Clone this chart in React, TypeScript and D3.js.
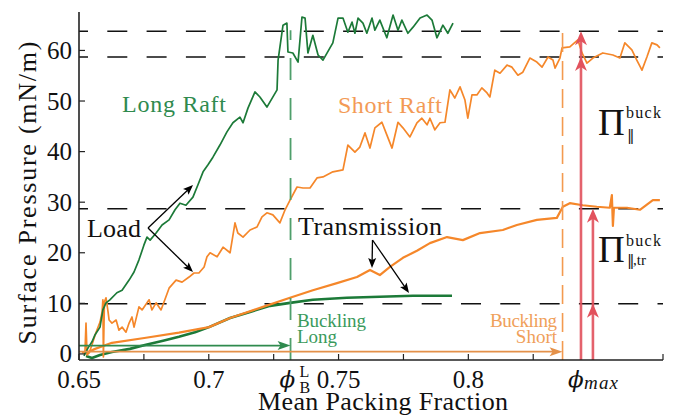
import React from 'react';
import * as d3 from 'd3';

const W = 676;
const H = 416;

// Long raft, load curve (mean packing fraction, surface pressure mN/m)
const longLoad: [number, number][] = [
  [0.6519, -0.4], [0.6535, 1.2], [0.655, 2.4], [0.6562, 3.8], [0.6581, 5.3], [0.6592, 8.7],
  [0.6604, 10.1], [0.6619, 10.7], [0.6646, 12.1], [0.6666, 12.6], [0.6693, 14.6], [0.6712, 16.2],
  [0.6731, 18.6], [0.675, 21.5], [0.6762, 23.1], [0.6774, 22.5], [0.6797, 23.9], [0.682, 25.5],
  [0.6847, 26.5], [0.687, 28.5], [0.6889, 29.8], [0.6912, 29.4], [0.6939, 31.0], [0.6958, 33.4],
  [0.6978, 36.0], [0.6997, 37.4], [0.7016, 38.9], [0.7043, 41.3], [0.707, 43.9], [0.7093, 45.7],
  [0.712, 46.8], [0.7132, 45.7], [0.7151, 48.6], [0.7178, 51.8], [0.7197, 50.8], [0.7224, 48.8],
  [0.7263, 52.2], [0.7267, 58.1], [0.7286, 65.0], [0.7301, 65.4], [0.7305, 59.7], [0.7324, 59.5],
  [0.7344, 57.7], [0.7359, 66.6], [0.7371, 66.4], [0.7382, 59.5], [0.7401, 63.0], [0.7421, 59.1],
  [0.744, 58.1], [0.7478, 61.5], [0.7498, 66.4], [0.7517, 66.4], [0.7536, 63.6], [0.7552, 65.6],
  [0.7563, 63.4], [0.7575, 66.4], [0.7594, 65.4], [0.7609, 63.4], [0.7629, 66.4], [0.764, 64.0],
  [0.7659, 66.0], [0.7686, 62.5], [0.771, 67.0], [0.7729, 64.0], [0.7744, 66.0], [0.7767, 63.4],
  [0.7787, 64.6], [0.7814, 66.4], [0.7841, 67.0], [0.786, 66.0], [0.7879, 62.5], [0.7902, 65.0],
  [0.7921, 63.4], [0.7941, 65.4],
];

// Short raft, load curve
const shortLoad: [number, number][] = [
  [0.6512, 0.2], [0.6523, 0.4], [0.6527, 6.1], [0.6531, -0.2], [0.6539, 0.2], [0.655, 1.8],
  [0.6565, 4.2], [0.6581, 6.3], [0.6589, 8.3], [0.6592, 10.7], [0.6594, -0.6], [0.6598, 10.3],
  [0.6604, 11.1], [0.6612, 8.3], [0.6616, 6.7], [0.6627, 6.1], [0.6643, 6.7], [0.6654, 4.7],
  [0.6666, 5.3], [0.6681, 4.3], [0.6693, 6.1], [0.6704, 7.3], [0.6712, 5.3], [0.6731, 9.3],
  [0.6743, 8.7], [0.677, 10.7], [0.6781, 8.7], [0.6797, 10.1], [0.6816, 8.7], [0.6835, 11.3],
  [0.6847, 13.0], [0.6874, 14.6], [0.6897, 14.2], [0.6924, 15.2], [0.6943, 16.0], [0.6962, 16.0],
  [0.6982, 17.2], [0.6993, 19.2], [0.7005, 20.0], [0.7032, 19.2], [0.7055, 21.1], [0.7082, 20.0],
  [0.7101, 25.9], [0.7112, 23.9], [0.7132, 23.1], [0.7159, 24.5], [0.7186, 25.1], [0.7205, 27.1],
  [0.7224, 27.9], [0.7247, 27.5], [0.7274, 25.9], [0.7294, 28.5], [0.7313, 30.4], [0.734, 33.0],
  [0.7363, 32.8], [0.739, 32.8], [0.7417, 34.8], [0.744, 35.0], [0.7478, 36.0], [0.7517, 36.4],
  [0.7536, 41.3], [0.7563, 39.9], [0.7582, 40.9], [0.7602, 43.7], [0.7621, 40.7], [0.764, 44.7],
  [0.7667, 45.8], [0.7686, 43.3], [0.7706, 40.7], [0.7729, 45.8], [0.7748, 44.7], [0.7775, 42.9],
  [0.7802, 45.7], [0.7821, 46.6], [0.7841, 45.3], [0.7852, 46.6], [0.7871, 44.3], [0.7891, 45.7],
  [0.791, 45.8], [0.7929, 52.2], [0.7948, 50.6], [0.7968, 52.8], [0.7987, 50.2], [0.7998, 46.6],
  [0.8014, 51.2], [0.8033, 51.2], [0.8052, 52.6], [0.8072, 51.6], [0.8083, 50.8], [0.8102, 56.1],
  [0.8122, 55.5], [0.8149, 57.1], [0.8168, 56.7], [0.8191, 55.1], [0.821, 55.7], [0.8237, 58.5],
  [0.8264, 57.7], [0.8284, 56.7], [0.8307, 58.7], [0.8326, 58.1], [0.8334, 56.5], [0.8353, 58.5],
  [0.8361, 60.5], [0.8391, 60.7], [0.8422, 62.1], [0.8438, 59.5], [0.8457, 57.5], [0.848, 58.5],
  [0.8518, 59.5], [0.8557, 59.1], [0.8584, 58.5], [0.8603, 61.5], [0.863, 60.1], [0.8649, 58.1],
  [0.8669, 56.1], [0.8688, 58.7], [0.8707, 61.5], [0.8727, 61.1], [0.8738, 60.5],
];

// Long raft, transmission curve
const longTrans: [number, number][] = [
  [0.6527, -0.4], [0.655, -0.8], [0.6581, -0.2], [0.6627, 0.4], [0.6696, 1.0], [0.6758, 1.8],
  [0.6824, 2.6], [0.6885, 3.4], [0.6947, 4.3], [0.7001, 5.3], [0.7082, 7.1], [0.7159, 8.3],
  [0.7236, 9.5], [0.7313, 10.1], [0.7401, 10.7], [0.7532, 11.1], [0.7659, 11.3], [0.7787, 11.5],
  [0.7937, 11.5],
];

// Short raft, transmission curve
const shortTrans: [number, number][] = [
  [0.6519, 0.0], [0.6527, 0.2], [0.6562, 1.0], [0.6627, 2.2], [0.6758, 3.2], [0.6885, 4.2],
  [0.7001, 5.3], [0.7082, 7.1], [0.7209, 9.3], [0.7313, 11.1], [0.7401, 12.6], [0.7494, 14.0],
  [0.7571, 15.2], [0.7621, 16.6], [0.7659, 15.6], [0.7698, 17.2], [0.7748, 19.0], [0.7802, 20.4],
  [0.7852, 21.9], [0.7918, 23.1], [0.7979, 22.5], [0.8045, 23.9], [0.8133, 24.5], [0.8187, 25.5],
  [0.8264, 26.5], [0.8341, 26.9], [0.8364, 29.1], [0.8391, 29.8], [0.8441, 29.4], [0.8495, 29.1],
  [0.8545, 28.9], [0.8553, 31.4], [0.8557, 25.3], [0.8561, 28.9], [0.8611, 28.9], [0.8661, 28.5],
  [0.8711, 30.4], [0.8738, 30.4],
];

const yTicks = [0, 10, 20, 30, 40, 50, 60];
const xTickLabels = [0.65, 0.7, 0.75, 0.8];
const xTickMarks = [0.65, 0.675, 0.7, 0.725, 0.75, 0.775, 0.8, 0.825, 0.875];
const refLevels = [63.8, 58.7, 28.7, 9.9];
const phiBLong = 0.7315;
const phiBShort = 0.8363;
const phiMax = 0.8434;
const phiMaxTr = 0.848;
const arrowLongLevel = 1.65;
const arrowShortLevel = 0.45;
const buckTop = [63.8, 58.7];
const buckTr = [28.7, 9.9];

const GREEN = '#1c7a38';
const ORANGE = '#f5872a';
const RED = '#e2525d';

const CSS = `
svg text { font-family: "Liberation Serif", "Times New Roman", serif; }
svg text.greek { font-family: "DejaVu Serif", serif; }
`;

function headPath(tx: number, ty: number, fx: number, fy: number, len: number, half: number, notch: number) {
  const dx = tx - fx, dy = ty - fy;
  const L = Math.hypot(dx, dy);
  const ux = dx / L, uy = dy / L;
  const px = -uy, py = ux;
  const bx = tx - ux * len, by = ty - uy * len;
  const nx = tx - ux * (len - notch), ny = ty - uy * (len - notch);
  return `M${tx},${ty}L${bx + px * half},${by + py * half}L${nx},${ny}L${bx - px * half},${by - py * half}Z`;
}

export default function App() {
  const x = d3.scaleLinear().domain([0.65, 0.875]).range([79, 663]);
  const y = d3.scaleLinear().domain([-1.2, 67.6]).range([360, 12]);
  const line = d3.line<[number, number]>().x(d => x(d[0])).y(d => y(d[1]));

  const x0 = x.range()[0], x1 = x.range()[1];
  const yb = y.range()[0], yt = y.range()[1];

  const blackArrow = (fx: number, fy: number, tx: number, ty: number, key: string) => {
    const L = Math.hypot(tx - fx, ty - fy);
    return (
      <g key={key}>
        <line x1={fx} y1={fy} x2={tx - (tx - fx) / L * 5} y2={ty - (ty - fy) / L * 5} stroke="#000" strokeWidth={1.3} />
        <path d={headPath(tx, ty, fx, fy, 10, 4, 2)} fill="#000" />
      </g>
    );
  };

  const loadV = [148, 228];
  const transV = [372.5, 240];

  return (
    <svg width={W} height={H} style={{ position: 'absolute', left: 0, top: 0, background: '#fff' }}>
      <style>{CSS}</style>
      <defs>
        <clipPath id="plot">
          <rect x={x0} y={0} width={x1 - x0} height={yb} />
        </clipPath>
      </defs>

      {/* horizontal reference dashed lines */}
      <g clipPath="url(#plot)">
        {refLevels.map((v, i) => (
          <line key={i} x1={x0} x2={x1} y1={y(v)} y2={y(v)} stroke="#111" strokeWidth={1.5}
            strokeDasharray="20,19.3" strokeDashoffset={11} />
        ))}
      </g>

      {/* curves */}
      <path d={line(longTrans) || ''} fill="none" stroke={GREEN} strokeWidth={2.6} strokeLinejoin="round" />
      <path d={line(shortTrans) || ''} fill="none" stroke={ORANGE} strokeWidth={2.2} strokeLinejoin="round" />
      <path d={line(shortLoad) || ''} fill="none" stroke={ORANGE} strokeWidth={1.7} strokeLinejoin="round" />
      <path d={line(longLoad) || ''} fill="none" stroke={GREEN} strokeWidth={1.7} strokeLinejoin="round" />

      {/* buckling vertical dashed lines */}
      <line x1={x(phiBLong)} x2={x(phiBLong)} y1={yb} y2={y(64)} stroke="#4f9f6b" strokeWidth={1.8} strokeDasharray="22,18" />
      <line x1={x(phiBShort)} x2={x(phiBShort)} y1={yb} y2={y(63.8)} stroke="#f39a4f" strokeWidth={1.6} strokeDasharray="19,9" />

      {/* buckling horizontal arrows */}
      <line x1={x0} x2={x(phiBLong) - 8} y1={y(arrowLongLevel)} y2={y(arrowLongLevel)} stroke="#2f8a4e" strokeWidth={1.6} />
      <path d={headPath(x(phiBLong), y(arrowLongLevel), x0, y(arrowLongLevel), 13, 4.5, 3)} fill="#2f8a4e" />
      <line x1={x0} x2={x(phiBShort) - 8} y1={y(arrowShortLevel)} y2={y(arrowShortLevel)} stroke="#e4914a" strokeWidth={1.6} />
      <path d={headPath(x(phiBShort), y(arrowShortLevel), x0, y(arrowShortLevel), 13, 4.5, 3)} fill="#e4914a" />

      {/* red pressure arrows */}
      <line x1={x(phiMax)} x2={x(phiMax)} y1={yb} y2={y(buckTop[0]) + 6} stroke={RED} strokeWidth={2.6} opacity={0.9} />
      {buckTop.map((v, i) => (
        <path key={'t' + i} d={headPath(x(phiMax), y(v), x(phiMax), yb, 14, 6, 4)} fill={RED} />
      ))}
      <line x1={x(phiMaxTr)} x2={x(phiMaxTr)} y1={yb} y2={y(buckTr[0]) + 6} stroke={RED} strokeWidth={2.6} opacity={0.9} />
      {buckTr.map((v, i) => (
        <path key={'r' + i} d={headPath(x(phiMaxTr), y(v), x(phiMaxTr), yb, 14, 6, 4)} fill={RED} />
      ))}

      {/* axes */}
      <line x1={x0} x2={x1} y1={yb} y2={yb} stroke="#222" strokeWidth={1.6} />
      <line x1={x0} x2={x0} y1={yb} y2={yt} stroke="#222" strokeWidth={1.6} />
      {xTickMarks.map(t => (
        <line key={t} x1={x(t)} x2={x(t)} y1={yb} y2={yb - 6} stroke="#222" strokeWidth={1.2} />
      ))}
      {yTicks.map(t => (
        <line key={t} x1={x0} x2={x0 + 6} y1={y(t)} y2={y(t)} stroke="#222" strokeWidth={1.2} />
      ))}
      {xTickLabels.map(t => (
        <text key={t} x={x(t)} y={388} textAnchor="middle" fontSize={25} fill="#111">{String(t)}</text>
      ))}
      {yTicks.map(t => (
        <text key={t} x={72} y={y(t)} dy="0.34em" textAnchor="end" fontSize={25} fill="#111">{String(t)}</text>
      ))}

      {/* special x labels */}
      <text className="greek" x={x(phiBLong) - 11} y={387} fontSize={23} fontStyle="italic" fill="#111">ϕ</text>
      <text x={x(phiBLong) + 9} y={377} fontSize={16} fill="#111">L</text>
      <text x={x(phiBLong) + 9} y={393} fontSize={16} fill="#111">B</text>
      <text className="greek" x={568} y={387} fontSize={23} fontStyle="italic" fill="#111">ϕ</text>
      <text x={584} y={389} fontSize={19} fontStyle="italic" fill="#111" textLength={34}>max</text>

      {/* axis titles */}
      <text x={383} y={410} textAnchor="middle" fontSize={26} fill="#111" textLength={250}>Mean Packing Fraction</text>
      <text transform="translate(36,193) rotate(-90)" textAnchor="middle" fontSize={26} fill="#111" textLength={303}>Surface Pressure (mN/m)</text>

      {/* annotations */}
      <text x={122} y={112} fontSize={24} fill="#2f8a4e" textLength={104}>Long Raft</text>
      <text x={338} y={113} fontSize={24} fill="#f39a55" textLength={104}>Short Raft</text>
      <text x={87} y={237} fontSize={26} fill="#111" textLength={54}>Load</text>
      <text x={298} y={235} fontSize={26} fill="#111" textLength={144}>Transmission</text>
      {blackArrow(loadV[0], loadV[1], 193, 185, 'a1')}
      {blackArrow(loadV[0], loadV[1], 193, 272, 'a2')}
      {blackArrow(transV[0], transV[1], 372, 268, 'a3')}
      {blackArrow(transV[0], transV[1], 409, 293, 'a4')}

      <text x={297} y={327} fontSize={19} fill="#3a9a5c" textLength={69}>Buckling</text>
      <text x={297} y={343} fontSize={19} fill="#3a9a5c">Long</text>
      <text x={557} y={327} fontSize={19} fill="#f0a05a" textAnchor="end" textLength={67}>Buckling</text>
      <text x={557} y={343} fontSize={19} fill="#f0a05a" textAnchor="end">Short</text>

      {/* Pi labels */}
      <text x={598} y={135} fontSize={37} fill="#111">Π</text>
      <text x={626} y={118} fontSize={16} fill="#111" textLength={35}>buck</text>
      <text className="greek" x={627} y={140} fontSize={15} fill="#111">‖</text>
      <text x={598} y={262} fontSize={37} fill="#111">Π</text>
      <text x={626} y={246} fontSize={16} fill="#111" textLength={35}>buck</text>
      <text className="greek" x={627} y={265} fontSize={15} fill="#111">‖</text>
      <text x={633} y={265} fontSize={15} fill="#111">,tr</text>
    </svg>
  );
}
